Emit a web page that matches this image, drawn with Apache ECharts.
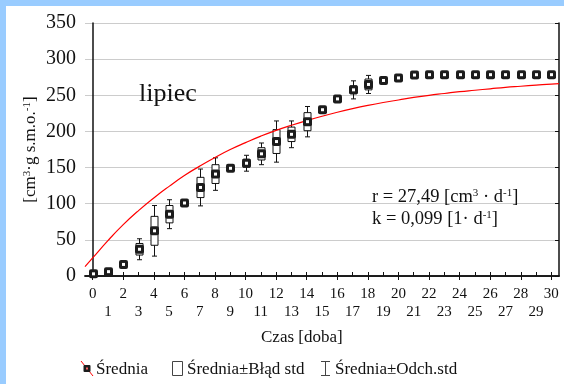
<!DOCTYPE html>
<html>
<head>
<meta charset="utf-8">
<script src="https://cdn.jsdelivr.net/npm/echarts@6/dist/echarts.min.js"></script>
<style>
  html, body { margin: 0; padding: 0; background: #99ccff; overflow: hidden; }
  #main { position: absolute; left: 6px; top: 6px; width: 558px; height: 378px; background: #ffffff; }
</style>
</head>
<body>
<div id="main"></div>
<script>
// Day labels on the time axis
const days = ['0','1','2','3','4','5','6','7','8','9','10','11','12','13','14','15',
              '16','17','18','19','20','21','22','23','24','25','26','27','28','29','30'];
// Mean cumulative gas volume per day
const meanVals = [3, 6, 16, 37, 62.5, 85.5, 101, 122.5, 141, 149, 156, 169, 186, 196, 213.5, 230,
                  245, 257.5, 265, 270.5, 274, 278, 278.5, 278.5, 278.5, 278.5, 278.5, 278.5, 278.5, 278.5, 278.5];
// Standard error of the mean
const stdErr = [1, 1, 1.5, 8, 20, 12, 2, 14, 13, 2, 5.5, 8.5, 16.5, 10, 12.5, 2,
                2.5, 5.5, 7.5, 2, 2.5, 2, 1, 1, 1, 1, 1, 1, 1, 1, 1];
// Standard deviation
const stdDev = [2, 2, 3, 14.5, 35, 20, 3.5, 25.5, 22.5, 3.5, 11, 15, 28.5, 18.5, 21, 3.5,
                4.5, 12.5, 12.5, 3.5, 4.5, 3.5, 1.5, 1.5, 1.5, 1.5, 1.5, 1.5, 1.5, 1.5, 1.5];
// Fitted kinetic curve
const fitDays = [-0.5, 0, 1, 2, 3, 4, 5, 6, 7, 8, 9, 10, 11, 12, 13, 14, 15, 16, 17, 18, 19, 20,
                 21, 22, 23, 24, 25, 26, 27, 28, 29, 30, 30.5];
const fitVals = [13, 25, 49, 71, 90.5, 108, 124, 139, 152, 164, 175, 184.5, 193.5, 201.5, 208.5, 215,
                 221, 226.5, 231.5, 236, 240, 243.5, 247, 250, 252.5, 255, 257, 259, 261, 262.5, 264, 265.5, 266];

const FONT = "'Liberation Serif', 'Times New Roman', serif";
const INK = '#111111';

const rows = days.map((d, i) => [i, meanVals[i], stdErr[i], stdDev[i]]);
const fitData = fitDays.map((d, i) => [d, fitVals[i]]);

function whiskerItem(params, api) {
  const i = api.value(0), m = api.value(1), sd = api.value(3);
  const top = api.coord([i, m + sd]);
  const bot = api.coord([i, m - sd]);
  const x = Math.round(top[0]) + 0.5;
  const hw = 2.5;
  const st = { stroke: INK, lineWidth: 1, fill: null };
  return {
    type: 'group',
    children: [
      { type: 'line', shape: { x1: x, y1: top[1], x2: x, y2: bot[1] }, style: st },
      { type: 'line', shape: { x1: x - hw, y1: top[1], x2: x + hw, y2: top[1] }, style: st },
      { type: 'line', shape: { x1: x - hw, y1: bot[1], x2: x + hw, y2: bot[1] }, style: st }
    ]
  };
}

function boxItem(params, api) {
  const i = api.value(0), m = api.value(1), se = api.value(2);
  const top = api.coord([i, m + se]);
  const bot = api.coord([i, m - se]);
  const x = Math.round(top[0]) + 0.5;
  return {
    type: 'rect',
    shape: { x: x - 3.5, y: top[1], width: 7, height: bot[1] - top[1] },
    style: { fill: '#ffffff', stroke: INK, lineWidth: 1 }
  };
}

function meanItem(params, api) {
  const c = api.coord([api.value(0), api.value(1)]);
  const x = Math.round(c[0]) + 0.5;
  return {
    type: 'group',
    children: [
      { type: 'rect', shape: { x: x - 4.5, y: c[1] - 4.5, width: 9, height: 9, r: 2 },
        style: { fill: '#1c1c1c', stroke: null } },
      { type: 'rect', shape: { x: x - 1.5, y: c[1] - 1.5, width: 3, height: 3 },
        style: { fill: '#ffffff', stroke: null } }
    ]
  };
}

const chart = echarts.init(document.getElementById('main'), null, { renderer: 'canvas' });

const axisLineStyle = { lineStyle: { color: INK, width: 1.5 } };
const supStyle = { s: { fontSize: 11, fontFamily: FONT, color: INK, fill: INK, verticalAlign: 'top' } };

chart.setOption({
  animation: false,
  backgroundColor: '#ffffff',
  textStyle: { fontFamily: FONT, color: INK },
  grid: { left: 79, top: 17, width: 474, height: 253, containLabel: false },
  xAxis: [
    {
      type: 'category', data: days, position: 'bottom', boundaryGap: true,
      axisLine: axisLineStyle,
      axisTick: { show: true, inside: true, length: 4, alignWithLabel: true, lineStyle: { color: INK } },
      axisLabel: {
        interval: 0, margin: 9, fontSize: 15, lineHeight: 18, fontFamily: FONT, color: INK,
        formatter: (v, idx) => (idx % 2 ? '\n' + v : v)
      },
      splitLine: { show: false }
    },
    {
      type: 'category', data: days, position: 'top', boundaryGap: true,
      axisLine: axisLineStyle,
      axisTick: { show: true, inside: true, length: 4, alignWithLabel: true, lineStyle: { color: INK } },
      axisLabel: { show: false },
      splitLine: { show: false }
    },
    {
      type: 'value', min: -0.5, max: 30.5, show: false
    }
  ],
  yAxis: [
    {
      type: 'value', min: 0, max: 350, interval: 50, position: 'left',
      name: '[cm{s|3}·g s.m.o.{s|-1}]',
      nameLocation: 'middle', nameGap: 46, nameRotate: 90, nameMoveOverlap: false,
      nameTextStyle: {
        fontFamily: FONT, fontSize: 17, color: INK,
        rich: { s: { fontFamily: FONT, fontSize: 11, color: INK, verticalAlign: 'top' } }
      },
      axisLine: { show: true, lineStyle: { color: INK, width: 1.5 } },
      axisTick: { show: false },
      axisLabel: { fontSize: 20, fontFamily: FONT, color: INK, margin: 9 },
      splitLine: { show: true, lineStyle: { color: '#cccccc', width: 1 } }
    },
    {
      type: 'value', min: 0, max: 350, interval: 50, position: 'right',
      axisLine: { show: true, lineStyle: { color: INK, width: 1.5 } },
      axisTick: { show: true, inside: true, length: 4, lineStyle: { color: INK } },
      axisLabel: { show: false },
      splitLine: { show: false }
    }
  ],
  series: [
    {
      name: 'Średnia±Odch.std', type: 'custom', xAxisIndex: 0, yAxisIndex: 0,
      renderItem: whiskerItem, data: rows, z: 2, encode: { x: 0, y: 1 }
    },
    {
      name: 'Średnia±Błąd std', type: 'custom', xAxisIndex: 0, yAxisIndex: 0,
      renderItem: boxItem, data: rows, z: 3, encode: { x: 0, y: 1 }
    },
    {
      name: 'Model', type: 'line', xAxisIndex: 2, yAxisIndex: 0,
      data: fitData, smooth: true, showSymbol: false, z: 4,
      lineStyle: { color: '#ff0000', width: 1.2 }
    },
    {
      name: 'Średnia', type: 'custom', xAxisIndex: 0, yAxisIndex: 0,
      renderItem: meanItem, data: rows, z: 5, encode: { x: 0, y: 1 }
    }
  ],
  graphic: [
    // month label
    { type: 'text', x: 133, y: 75, z: 10,
      style: { text: 'lipiec', font: "26px " + FONT, fill: INK } },
    // model parameters
    { type: 'text', x: 366, y: 182, z: 10,
      style: { text: 'r = 27,49 [cm{s|3} · d{s|-1}]', font: "18.5px " + FONT, fill: INK, rich: supStyle } },
    { type: 'text', x: 366, y: 204, z: 10,
      style: { text: 'k = 0,099 [1· d{s|-1}]', font: "18.5px " + FONT, fill: INK, rich: supStyle } },
    // horizontal axis title
    { type: 'text', x: 255, y: 323, z: 10,
      style: { text: 'Czas [doba]', font: "17px " + FONT, fill: INK } },
    // legend
    { type: 'line', z: 10, shape: { x1: 75, y1: 355, x2: 87, y2: 370 }, style: { stroke: '#ff0000', lineWidth: 1 } },
    { type: 'rect', z: 11, shape: { x: 77.5, y: 359, width: 7, height: 7, r: 1 }, style: { fill: '#1c1c1c' } },
    { type: 'rect', z: 12, shape: { x: 80, y: 361.5, width: 2, height: 2 }, style: { fill: '#ff6060' } },
    { type: 'text', z: 10, x: 90, y: 355, style: { text: 'Średnia', font: "17px " + FONT, fill: INK } },
    { type: 'rect', z: 10, shape: { x: 166.5, y: 355.5, width: 10, height: 14 }, style: { fill: '#ffffff', stroke: '#444', lineWidth: 1 } },
    { type: 'text', z: 10, x: 181, y: 355, style: { text: 'Średnia±Błąd std', font: "17px " + FONT, fill: INK } },
    { type: 'line', z: 10, shape: { x1: 319.5, y1: 355.5, x2: 319.5, y2: 369.5 }, style: { stroke: '#444', lineWidth: 1 } },
    { type: 'line', z: 10, shape: { x1: 315, y1: 355.5, x2: 324, y2: 355.5 }, style: { stroke: '#444', lineWidth: 1 } },
    { type: 'line', z: 10, shape: { x1: 315, y1: 369.5, x2: 324, y2: 369.5 }, style: { stroke: '#444', lineWidth: 1 } },
    { type: 'text', z: 10, x: 329, y: 355, style: { text: 'Średnia±Odch.std', font: "17px " + FONT, fill: INK } }
  ]
});
</script>
</body>
</html>
